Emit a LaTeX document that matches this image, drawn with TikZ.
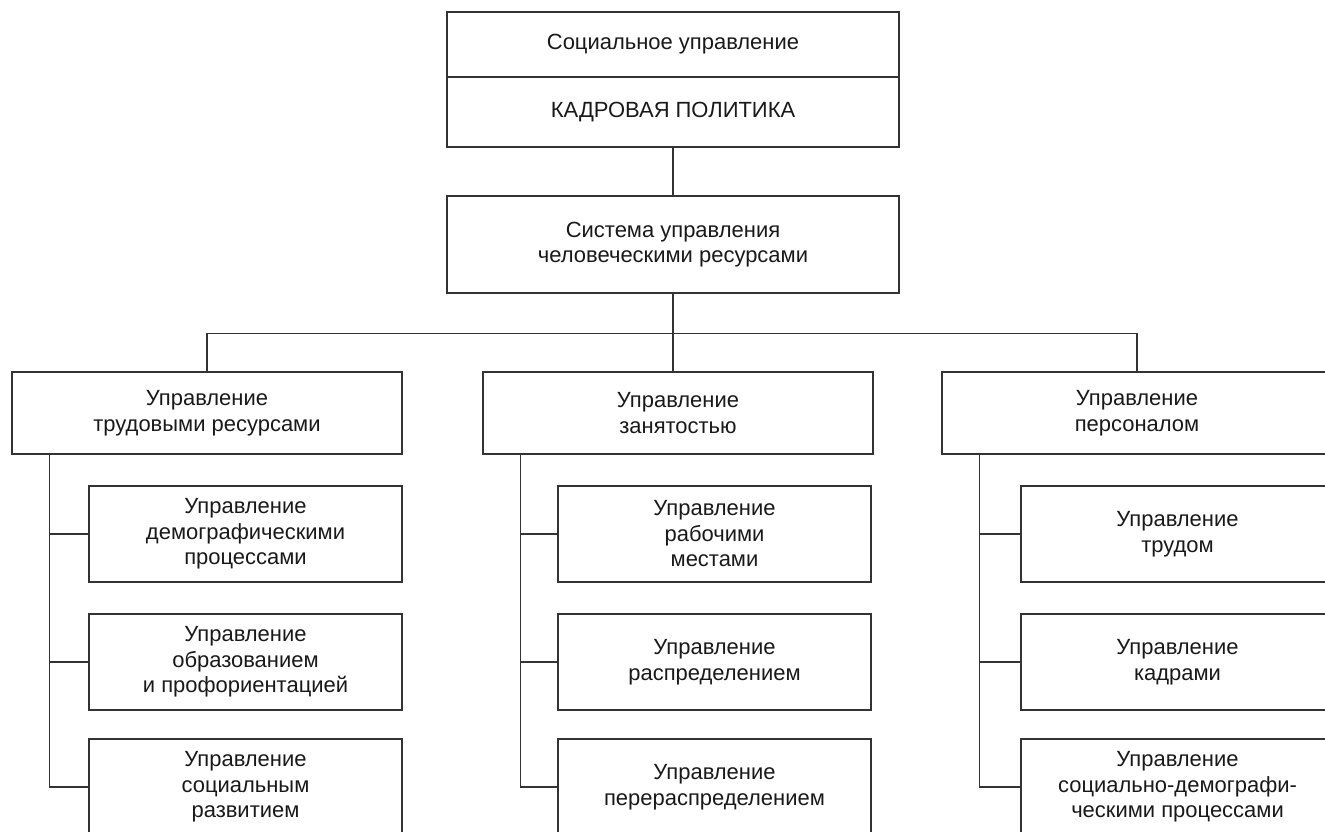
\documentclass[tikz,border=0pt]{standalone}
\usepackage{fontspec}
\setmainfont{Liberation Sans}

\begin{document}
\begin{tikzpicture}[
    every node/.style={draw=black!80, line width=0.6pt, text=black!90,
        align=center, font=\fontsize{12.5}{14.5}\selectfont, inner sep=2pt},
    topbox/.style={minimum width=9.04cm},
    midbox/.style={minimum width=7.8cm, minimum height=1.64cm},
    subbox/.style={minimum width=6.26cm, minimum height=1.92cm},
    link/.style={draw=black!80, line width=0.6pt}
]
    \useasboundingbox (0,0) rectangle (26.5,-16.64);
    % upper part
    \node[topbox, minimum height=1.3cm] (soc) at (13.46,-0.89) {Социальное управление};
    \node[topbox, minimum height=1.4cm] (kadr) at (13.46,-2.24) {КАДРОВАЯ ПОЛИТИКА};
    \node[topbox, minimum height=1.94cm] (sys) at (13.46,-4.89) {Система управления\\человеческими ресурсами};
    % second level
    \node[midbox] (trud) at (4.14,-8.26) {Управление\\трудовыми ресурсами};
    \node[midbox] (zan) at (13.56,-8.26) {Управление\\занятостью};
    \node[midbox] (pers) at (22.74,-8.26) {Управление\\персоналом};
    % third level
    \node[subbox] (dem) at (4.91,-10.68) {Управление\\демографическими\\процессами};
    \node[subbox] (obr) at (4.91,-13.24) {Управление\\образованием\\и профориентацией};
    \node[subbox] (razv) at (4.91,-15.74) {Управление\\социальным\\развитием};
    \node[subbox] (rab) at (14.29,-10.68) {Управление\\рабочими\\местами};
    \node[subbox] (raspr) at (14.29,-13.24) {Управление\\распределением};
    \node[subbox] (pereraspr) at (14.29,-15.74) {Управление\\перераспределением};
    \node[subbox] (trudom) at (23.55,-10.68) {Управление\\трудом};
    \node[subbox] (kadry) at (23.55,-13.24) {Управление\\кадрами};
    \node[subbox] (sdp) at (23.55,-15.74) {Управление\\социально-демографи-\\ческими процессами};
    % connectors
    \draw[link] (kadr) -- (sys);
    \draw[link] (sys.south) -- ++(0,-0.8) coordinate (bus);
    \draw[link] (trud.north) |- (bus) -| (pers.north);
    \draw[link] (bus) -- (bus |- zan.north);
    \foreach \parent/\a/\b/\c in {trud/dem/obr/razv, zan/rab/raspr/pereraspr, pers/trudom/kadry/sdp} {
        \draw[link] ([xshift=0.76cm]\parent.south west) |- (\a.west);
        \draw[link] ([xshift=0.76cm]\parent.south west) |- (\b.west);
        \draw[link] ([xshift=0.76cm]\parent.south west) |- (\c.west);
    }
\end{tikzpicture}
\end{document}
